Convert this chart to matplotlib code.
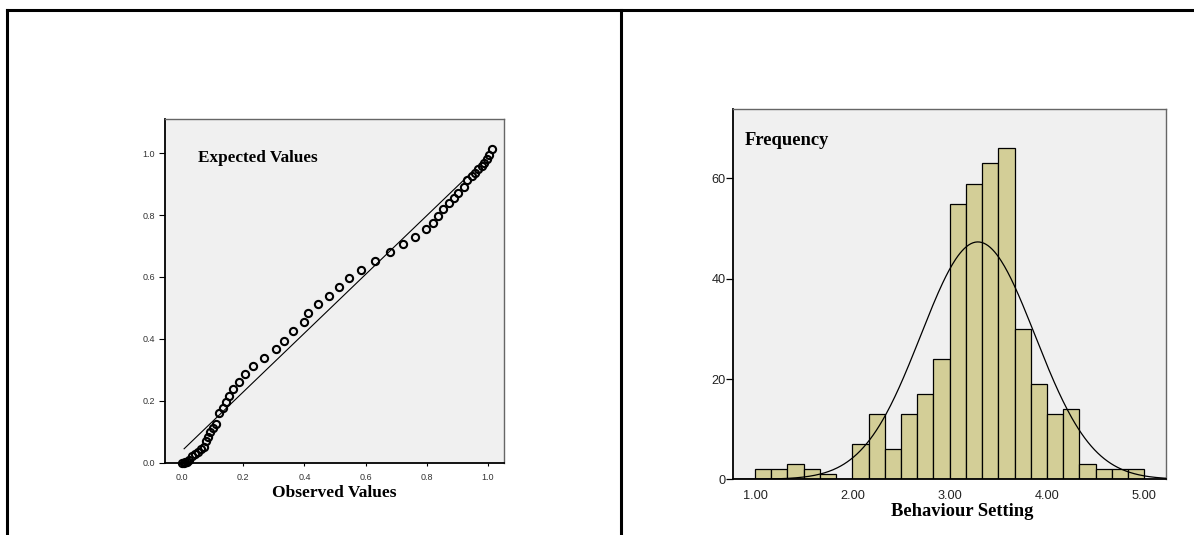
import numpy as np
import matplotlib
matplotlib.use("Agg")
import matplotlib.pyplot as plt
from matplotlib.lines import Line2D

# ---------------- data ----------------
# P-P plot (left): observed vs expected cumulative probabilities
pp_observed = [0.000, 0.005, 0.010, 0.015, 0.023, 0.031, 0.041, 0.052, 0.061, 0.071,
               0.078, 0.083, 0.091, 0.100, 0.109, 0.121, 0.132, 0.142, 0.152, 0.167,
               0.187, 0.204, 0.233, 0.269, 0.306, 0.333, 0.364, 0.397, 0.410, 0.444,
               0.481, 0.514, 0.545, 0.584, 0.631, 0.679, 0.724, 0.761, 0.797, 0.822,
               0.838, 0.855, 0.874, 0.890, 0.904, 0.922, 0.933, 0.948, 0.958, 0.969,
               0.980, 0.988, 0.997, 1.005, 1.013]
pp_expected = [0.000, 0.000, 0.002, 0.003, 0.009, 0.022, 0.029, 0.034, 0.043, 0.052,
               0.070, 0.083, 0.099, 0.113, 0.126, 0.159, 0.177, 0.196, 0.217, 0.239,
               0.262, 0.286, 0.312, 0.339, 0.366, 0.393, 0.424, 0.454, 0.483, 0.512,
               0.540, 0.569, 0.597, 0.624, 0.653, 0.680, 0.705, 0.729, 0.755, 0.776,
               0.798, 0.819, 0.839, 0.856, 0.871, 0.890, 0.914, 0.925, 0.935, 0.948,
               0.959, 0.968, 0.981, 0.995, 1.013]
ref_line_x = [0.006, 0.950]
ref_line_y = [0.045, 0.940]
pp_ticks = [0.0, 0.2, 0.4, 0.6, 0.8, 1.0]
pp_tick_labels = ["0.0", "0.2", "0.4", "0.6", "0.8", "1.0"]

# Histogram (right): Behaviour Setting
bin_edges = np.linspace(1.0, 5.0, 25)
bin_counts = [2, 2, 3, 2, 1, 0, 7, 13, 6, 13, 17, 24,
              55, 59, 63, 66, 30, 19, 13, 14, 3, 2, 2, 2]
hist_mean = 3.29
hist_sd = 0.587
hist_xticks = [1.0, 2.0, 3.0, 4.0, 5.0]
hist_xtick_labels = ["1.00", "2.00", "3.00", "4.00", "5.00"]
hist_yticks = [0, 20, 40, 60]
hist_ytick_labels = ["0", "20", "40", "60"]

# ---------------- figure ----------------
W, H = 1194, 535
fig = plt.figure(figsize=(W / 100, H / 100), dpi=100)
fig.patch.set_facecolor("white")

def fx(px):
    return px / W

def fy(py):
    return 1 - py / H

# table cell borders
for (x0, y0, x1, y1) in [(6.5, 10, W, 10), (6.5, 10, 6.5, H), (621, 10, 621, H)]:
    fig.add_artist(Line2D([fx(x0), fx(x1)], [fy(y0), fy(y1)], color="black", lw=2.2,
                          transform=fig.transFigure))

serif = ["Liberation Serif", "DejaVu Serif"]
sans = ["Liberation Sans", "DejaVu Sans"]
bg = "#f0f0f0"

def style_frame(ax):
    ax.set_facecolor(bg)
    ax.spines["left"].set_color("black")
    ax.spines["left"].set_linewidth(1.3)
    ax.spines["bottom"].set_color("black")
    ax.spines["bottom"].set_linewidth(1.3)
    for s in ("top", "right"):
        ax.spines[s].set_color("#666666")
        ax.spines[s].set_linewidth(1.0)

# ---- left: P-P plot ----
axL = fig.add_axes([fx(165), fy(462.7), fx(504) - fx(165), fy(118.5) - fy(462.7)])
style_frame(axL)
axL.set_xlim(-0.0566, 1.0534)
axL.set_ylim(0.0, 1.112)
axL.plot(ref_line_x, ref_line_y, color="black", lw=0.8, zorder=2)
axL.plot(pp_observed, pp_expected, linestyle="none", marker="o", markersize=5.2,
         markerfacecolor="none", markeredgecolor="black", markeredgewidth=1.5,
         clip_on=False, zorder=3)
axL.set_xticks(pp_ticks)
axL.set_xticklabels(pp_tick_labels, fontfamily=sans, fontsize=6.5, color="#333333")
axL.set_yticks(pp_ticks)
axL.set_yticklabels(pp_tick_labels, fontfamily=sans, fontsize=6.5, color="#333333")
axL.tick_params(axis="y", length=4, width=0.8, pad=3, color="black")
axL.tick_params(axis="x", length=2.5, width=0.8, pad=5, color="black")
axL.set_xlabel("Observed Values", fontfamily=serif, fontweight="bold", fontsize=12.5,
               labelpad=2)
axL.text(fx(198), fy(158.3), "Expected Values", transform=fig.transFigure,
         fontfamily=serif, fontweight="bold", fontsize=12.3, ha="left", va="center")

# ---- right: histogram ----
axR = fig.add_axes([fx(733.3), fy(479.3), fx(1166) - fx(733.3), fy(109.3) - fy(479.3)])
style_frame(axR)
axR.set_xlim(0.777, 5.223)
axR.set_ylim(0, 73.8)
widths = np.diff(bin_edges)
axR.bar(bin_edges[:-1], bin_counts, width=widths, align="edge", color="#d3ce97",
        edgecolor="black", linewidth=0.9, zorder=2)
xs = np.linspace(0.777, 5.223, 400)
n_total = sum(bin_counts)
bw = widths[0]
curve = n_total * bw / (hist_sd * np.sqrt(2 * np.pi)) * np.exp(-0.5 * ((xs - hist_mean) / hist_sd) ** 2)
axR.plot(xs, curve, color="black", lw=0.9, zorder=3)
axR.set_xticks(hist_xticks)
axR.set_xticklabels(hist_xtick_labels, fontfamily=sans, fontsize=9.2, color="#222222")
axR.set_yticks(hist_yticks)
axR.set_yticklabels(hist_ytick_labels, fontfamily=sans, fontsize=9.2, color="#222222")
axR.tick_params(axis="y", length=5, width=0.9, pad=0.5, color="black")
axR.tick_params(axis="x", length=0, pad=7.5)
axR.text(fx(961.7), fy(511.7), "Behaviour Setting", transform=fig.transFigure,
         fontfamily=serif, fontweight="bold", fontsize=13.3, ha="center", va="center")
axR.text(fx(745), fy(140.7), "Frequency", transform=fig.transFigure,
         fontfamily=serif, fontweight="bold", fontsize=13.3, ha="left", va="center")

fig.savefig("out.png", dpi=100, facecolor="white")
